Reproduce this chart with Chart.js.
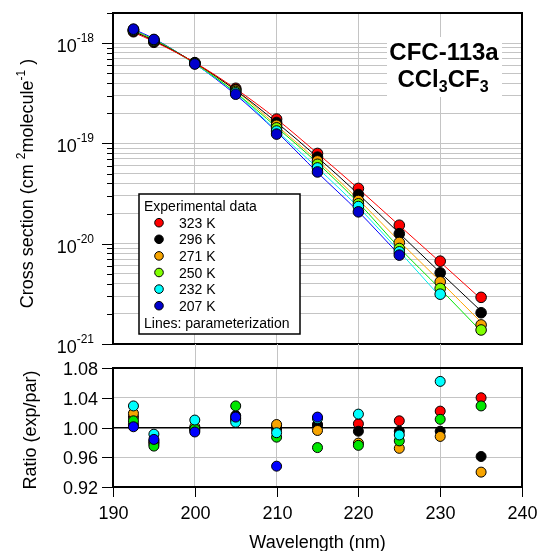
<!DOCTYPE html>
<html lang="en">
  <head>
    <meta charset="UTF-8" />
    <title>CFC-113a UV cross sections</title>
    <script src="https://cdn.jsdelivr.net/npm/chart.js@4.4.0/dist/chart.umd.min.js"></script>
    <style>
      html, body { margin: 0; padding: 0; background: #fff; }
      .wrap { position: relative; width: 539px; height: 551px; }
      .wrap canvas { position: absolute; left: 0; top: 0; }
    </style>
  </head>
  <body>
    <div class="wrap">
      <canvas id="crossChart" width="539" height="551"></canvas>
      <canvas id="ratioChart" width="539" height="551"></canvas>
    </div>

    <script>
      const wavelengths = [192.5, 195, 200, 205, 210, 215, 220, 225, 230, 235];
      const temperatures = ["323 K", "296 K", "271 K", "250 K", "232 K", "207 K"];

      // experimental cross sections (cm2 molecule-1)
      const exp323 = [1.30e-18, 1.02e-18, 6.40e-19, 3.55e-19, 1.75e-19, 7.95e-20, 3.56e-20, 1.53e-20, 6.70e-21, 2.92e-21];
      const exp296 = [1.32e-18, 1.04e-18, 6.35e-19, 3.45e-19, 1.62e-19, 7.30e-20, 3.10e-20, 1.26e-20, 5.13e-21, 2.05e-21];
      const exp271 = [1.34e-18, 1.05e-18, 6.30e-19, 3.40e-19, 1.52e-19, 6.70e-20, 2.70e-20, 1.03e-20, 4.17e-21, 1.55e-21];
      const exp250 = [1.35e-18, 1.06e-18, 6.30e-19, 3.30e-19, 1.43e-19, 6.20e-20, 2.50e-20, 8.96e-21, 3.58e-21, 1.38e-21];
      const exp232 = [1.37e-18, 1.08e-18, 6.25e-19, 3.20e-19, 1.33e-19, 5.70e-20, 2.35e-20, 8.30e-21, 3.14e-21];
      const exp207 = [1.38e-18, 1.09e-18, 6.20e-19, 3.10e-19, 1.24e-19, 5.20e-20, 2.08e-20, 7.70e-21];

      // parameterization (lines)
      const par323 = [1.28e-18, 1.04e-18, 6.41e-19, 3.51e-19, 1.75e-19, 7.96e-20, 3.54e-20, 1.52e-20, 6.56e-21, 2.81e-21];
      const par296 = [1.31e-18, 1.06e-18, 6.38e-19, 3.40e-19, 1.62e-19, 7.28e-20, 3.12e-20, 1.27e-20, 5.16e-21, 2.13e-21];
      const par271 = [1.32e-18, 1.07e-18, 6.29e-19, 3.37e-19, 1.51e-19, 6.73e-20, 2.76e-20, 1.06e-20, 4.22e-21, 1.65e-21];
      const par250 = [1.34e-18, 1.09e-18, 6.31e-19, 3.21e-19, 1.45e-19, 6.37e-20, 2.56e-20, 9.12e-21, 3.54e-21, 1.34e-21];
      const par232 = [1.33e-18, 1.09e-18, 6.19e-19, 3.18e-19, 1.34e-19, 5.70e-20, 2.31e-20, 8.38e-21, 2.96e-21];
      const par207 = [1.38e-18, 1.11e-18, 6.24e-19, 3.06e-19, 1.31e-19, 5.13e-20, 2.09e-20, 7.75e-21];

      // ratio exp/par
      const ratio323 = [1.014, 0.980, 0.999, 1.012, 1.002, 1.004, 1.005, 1.009, 1.022, 1.040];
      const ratio296 = [1.004, 0.982, 0.996, 1.016, 0.998, 1.003, 0.995, 0.995, 0.995, 0.961];
      const ratio271 = [1.019, 0.978, 1.001, 1.010, 1.004, 0.996, 0.979, 0.972, 0.988, 0.940];
      const ratio250 = [1.009, 0.975, 0.998, 1.029, 0.987, 0.973, 0.976, 0.982, 1.011, 1.029];
      const ratio232 = [1.029, 0.991, 1.010, 1.007, 0.993, 1.012, 1.018, 0.990, 1.062];
      const ratio207 = [1.001, 0.984, 0.994, 1.014, 0.948, 1.014];

      // axis ticks
      const xTicks = [190, 200, 210, 220, 230, 240];
      const decadeExps = [-21, -20, -19, -18];
      const mantissas = [1, 2, 3, 4, 5, 6, 7, 8, 9];
      const ratioTicks = [0.92, 0.96, 1.0, 1.04, 1.08];

      const expSeries = [exp323, exp296, exp271, exp250, exp232, exp207];
      const parSeries = [par323, par296, par271, par250, par232, par207];
      const ratioSeries = [ratio323, ratio296, ratio271, ratio250, ratio232, ratio207];

      const pointColors = ["#ff0000", "#000000", "#f7a400", "#80ff00", "#00ffff", "#0000cc"];
      const lineColors = ["#ff0000", "#000000", "#ffa500", "#00e600", "#00eeee", "#0000ff"];
      const ratioColors = ["#ff0000", "#000000", "#f7a400", "#00e600", "#00ffff", "#0000ff"];

      const FONT = '"Liberation Sans", Arial, sans-serif';
      const gridGray = "#c4c4c4";

      const logGrid = [];
      decadeExps.forEach((e) => {
        mantissas.forEach((m) => {
          const v = m * Math.pow(10, e);
          if (v <= 2.0001e-18) logGrid.push(v);
        });
      });

      const toPoints = (ys) => ys.map((y, i) => ({ x: wavelengths[i], y }));

      function setFont(ctx, p) {
        ctx.font = (p.bold ? "bold " : "") + p.size + "px " + FONT;
      }
      function drawRich(ctx, parts, x, y, align) {
        let w = 0;
        parts.forEach((p) => {
          setFont(ctx, p);
          w += ctx.measureText(p.t).width;
        });
        let cx = align === "right" ? x - w : align === "center" ? x - w / 2 : x;
        ctx.textAlign = "left";
        ctx.textBaseline = "alphabetic";
        parts.forEach((p) => {
          setFont(ctx, p);
          ctx.fillText(p.t, cx, y + (p.dy || 0));
          cx += ctx.measureText(p.t).width;
        });
      }

      // title box, legend, border, log axis labels
      const crossDecor = {
        id: "crossDecor",
        beforeDatasetsDraw(chart) {
          const ctx = chart.ctx;
          ctx.save();
          ctx.fillStyle = "#fff";
          ctx.fillRect(387, 37, 115, 60);
          ctx.fillStyle = "#000";
          drawRich(ctx, [{ t: "CFC-113a", size: 24, bold: true }], 444, 60, "center");
          drawRich(
            ctx,
            [
              { t: "CCl", size: 24, bold: true },
              { t: "3", size: 16, bold: true, dy: 5 },
              { t: "CF", size: 24, bold: true },
              { t: "3", size: 16, bold: true, dy: 5 },
            ],
            443, 87, "center"
          );

          ctx.fillStyle = "#fff";
          ctx.fillRect(139, 194, 161, 140);
          ctx.strokeStyle = "#000";
          ctx.lineWidth = 1.5;
          ctx.strokeRect(139, 194, 161, 140);
          ctx.fillStyle = "#000";
          drawRich(ctx, [{ t: "Experimental data", size: 14 }], 144, 211, "left");
          temperatures.forEach((t, i) => {
            const y = 222.7 + i * 16.6;
            ctx.beginPath();
            ctx.arc(159, y, 4.3, 0, Math.PI * 2);
            ctx.fillStyle = pointColors[i];
            ctx.fill();
            ctx.lineWidth = 1;
            ctx.strokeStyle = "#000";
            ctx.stroke();
            ctx.fillStyle = "#000";
            drawRich(ctx, [{ t, size: 14 }], 179, y + 5, "left");
          });
          drawRich(ctx, [{ t: "Lines: parameterization", size: 14 }], 144, 328, "left");
          ctx.restore();
        },
        afterDraw(chart) {
          const { ctx, chartArea: a, scales } = chart;
          const y = scales.y;
          ctx.save();
          ctx.strokeStyle = "#000";
          ctx.lineWidth = 2;
          ctx.strokeRect(a.left, a.top, a.right - a.left, a.bottom - a.top);
          ctx.lineWidth = 1;
          logGrid.forEach((v, i) => {
            const py = Math.round(y.getPixelForValue(v)) + 0.5;
            const major = i % 9 === 0;
            ctx.beginPath();
            ctx.moveTo(a.left - (major ? 11 : 6), py);
            ctx.lineTo(a.left, py);
            ctx.stroke();
          });
          ctx.fillStyle = "#000";
          decadeExps.forEach((e) => {
            const py = y.getPixelForValue(Math.pow(10, e));
            drawRich(ctx, [{ t: "10", size: 18 }, { t: String(e), size: 12, dy: -10 }], 94, py + 9, "right");
          });
          ctx.translate(33, 183.5);
          ctx.rotate(-Math.PI / 2);
          drawRich(
            ctx,
            [
              { t: "Cross section (cm ", size: 18 },
              { t: "2", size: 12, dy: -8 },
              { t: "molecule", size: 18 },
              { t: "-1", size: 12, dy: -8 },
              { t: " )", size: 18 },
            ],
            0, 0, "center"
          );
          ctx.restore();
        },
      };

      const crossDatasets = [];
      parSeries.forEach((ys, i) => {
        crossDatasets.push({
          label: temperatures[i] + " par",
          data: toPoints(ys),
          showLine: true,
          borderColor: lineColors[i],
          borderWidth: 1,
          pointRadius: 0,
          cubicInterpolationMode: "monotone",
          order: 20 + i,
        });
      });
      expSeries.forEach((ys, i) => {
        crossDatasets.push({
          label: temperatures[i],
          data: toPoints(ys),
          showLine: false,
          pointRadius: 5.3,
          pointBackgroundColor: pointColors[i],
          pointBorderColor: "#000",
          pointBorderWidth: 1,
          order: 5 - i,
        });
      });

      const crossChart = new Chart(document.getElementById("crossChart"), {
        type: "scatter",
        data: { datasets: crossDatasets },
        options: {
          responsive: false,
          animation: false,
          events: [],
          layout: { padding: { left: 113, right: 17, top: 13, bottom: 207 } },
          plugins: { legend: { display: false }, tooltip: { enabled: false } },
          scales: {
            x: {
              type: "linear",
              min: 190,
              max: 240,
              ticks: { display: false, stepSize: 10 },
              grid: { color: gridGray, drawTicks: false },
              border: { display: false },
            },
            y: {
              type: "logarithmic",
              min: 1e-21,
              max: 2e-18,
              ticks: { display: false },
              afterBuildTicks: (s) => {
                s.ticks = logGrid.map((v) => ({ value: v }));
              },
              grid: { color: gridGray, drawTicks: false },
              border: { display: false },
            },
          },
        },
        plugins: [crossDecor],
      });

      // ratio panel
      const ratioDecor = {
        id: "ratioDecor",
        afterDraw(chart) {
          const { ctx, chartArea: a, scales } = chart;
          const x = scales.x;
          const y = scales.y;
          const gapTop = crossChart.chartArea.bottom;
          ctx.save();
          ctx.strokeStyle = gridGray;
          ctx.lineWidth = 1;
          xTicks.slice(1, -1).forEach((v) => {
            const px = Math.round(x.getPixelForValue(v)) + 0.5;
            ctx.beginPath();
            ctx.moveTo(px, gapTop);
            ctx.lineTo(px, a.top);
            ctx.stroke();
          });
          ctx.strokeStyle = "#000";
          ctx.lineWidth = 2;
          ctx.strokeRect(a.left, a.top, a.right - a.left, a.bottom - a.top);
          ctx.lineWidth = 1;
          ctx.fillStyle = "#000";
          ratioTicks.forEach((v) => {
            const py = Math.round(y.getPixelForValue(v)) + 0.5;
            ctx.beginPath();
            ctx.moveTo(a.left - 11, py);
            ctx.lineTo(a.left, py);
            ctx.stroke();
            drawRich(ctx, [{ t: v.toFixed(2), size: 18 }], 98, py + 6.5, "right");
          });
          xTicks.forEach((v) => {
            const px = Math.round(x.getPixelForValue(v)) + 0.5;
            ctx.beginPath();
            ctx.moveTo(px, a.bottom);
            ctx.lineTo(px, a.bottom + 10);
            ctx.stroke();
            drawRich(ctx, [{ t: String(v), size: 18 }], px, 519, "center");
          });
          drawRich(ctx, [{ t: "Wavelength (nm)", size: 18 }], (a.left + a.right) / 2, 548, "center");
          ctx.translate(36, 430);
          ctx.rotate(-Math.PI / 2);
          drawRich(ctx, [{ t: "Ratio (exp/par)", size: 18 }], 0, 0, "center");
          ctx.restore();
        },
      };

      const ratioDatasets = ratioSeries.map((ys, i) => ({
        label: temperatures[i],
        data: toPoints(ys),
        showLine: false,
        pointRadius: 5,
        pointBackgroundColor: ratioColors[i],
        pointBorderColor: "#000",
        pointBorderWidth: 1,
        order: 5 - i,
      }));

      new Chart(document.getElementById("ratioChart"), {
        type: "scatter",
        data: { datasets: ratioDatasets },
        options: {
          responsive: false,
          animation: false,
          events: [],
          layout: { padding: { left: 113, right: 17, top: 368, bottom: 64 } },
          plugins: { legend: { display: false }, tooltip: { enabled: false } },
          scales: {
            x: {
              type: "linear",
              min: 190,
              max: 240,
              ticks: { display: false, stepSize: 10 },
              grid: { color: gridGray, drawTicks: false },
              border: { display: false },
            },
            y: {
              type: "linear",
              min: 0.92,
              max: 1.08,
              ticks: { display: false, stepSize: 0.04 },
              grid: {
                color: (c) => (Math.abs(c.tick.value - 1) < 1e-6 ? "#000" : gridGray),
                lineWidth: (c) => (Math.abs(c.tick.value - 1) < 1e-6 ? 1.5 : 1),
                drawTicks: false,
              },
              border: { display: false },
            },
          },
        },
        plugins: [ratioDecor],
      });
    </script>
  </body>
</html>
